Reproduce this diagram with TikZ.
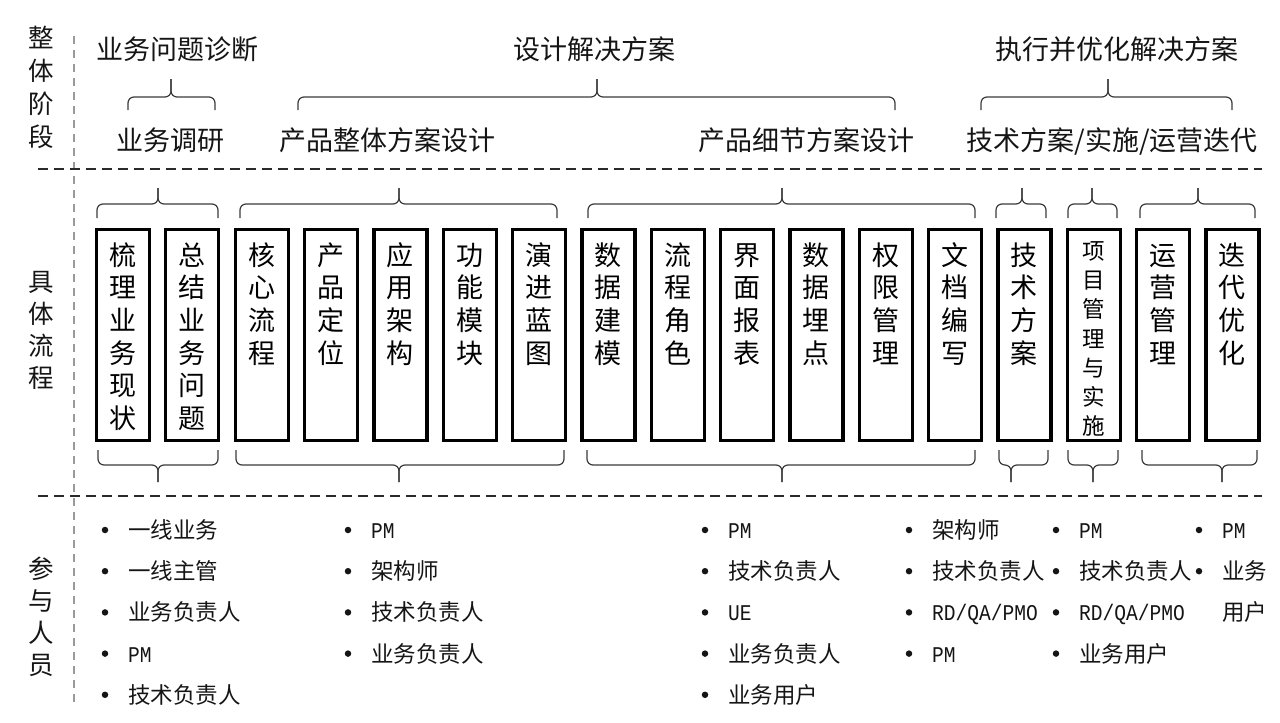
\documentclass[tikz,border=0pt]{standalone}
\usepackage{fontspec}
\setmainfont{Noto Sans CJK SC}
\newfontfamily\latf[FakeStretch=0.87]{Liberation Mono}
\definecolor{ink}{HTML}{151515}
\definecolor{bracec}{HTML}{3A3A3A}
\definecolor{dsh}{HTML}{2A2A2A}
\definecolor{vd}{HTML}{9A9A9A}
\tikzset{
 hd/.style={font=\fontsize{27}{27}\selectfont, inner sep=0, text height=23.8pt, text depth=3.2pt, text=ink},
 lab/.style={font=\fontsize{25.5}{25.5}\selectfont, inner sep=0, text height=22.4pt, text depth=3.1pt, text=ink},
 bt/.style={font=\fontsize{27}{27}\selectfont, inner sep=0, text height=23.8pt, text depth=3.2pt, text=black},
 bts/.style={font=\fontsize{22.5}{22.5}\selectfont, inner sep=0, text height=19.8pt, text depth=2.7pt, text=black},
 li/.style={font=\fontsize{22.5}{22.5}\selectfont, inner sep=0, text height=19.8pt, text depth=2.7pt, text=ink, anchor=west},
 dot/.style={circle, fill=ink, inner sep=0, minimum size=6.5pt},
 stagebox/.style={draw=black, line width=3.3pt, minimum width=53pt, minimum height=211pt, inner sep=0},
 bracestyle/.style={draw=bracec, line width=1.2pt, rounded corners=6pt},
 hdash/.style={draw=dsh, line width=2pt, dash pattern=on 10pt off 6pt},
 vdash/.style={draw=vd, line width=1.2pt, dash pattern=on 8pt off 6pt},
}
% #1 x1, #2 x2, #3 tip x, #4 end y, #5 mid y, #6 tip y
\newcommand\mybrace[6]{%
 \draw[bracestyle] (#1,#4) -- (#1,#5) -- (#3,#5) -- (#3,#6);
 \draw[bracestyle] (#2,#4) -- (#2,#5) -- (#3,#5) -- (#3,#6);}
% #1 index, #2 style, #3 first y, #4 pitch, #5 chars
\newcommand\colchars[5]{%
 \foreach \c [count=\k from 0] in {#5} {
  \node[#2] (t#1-\k) at ({123+69.34*#1}, {#3+#4*\k}) {\c};
 }}
% #1 name, #2 bullet x, #3 items
\newcommand\plist[3]{%
 \foreach \t [count=\k from 0] in {#3} {
  \node[dot] (#1d\k) at (#2, {530+41.2*\k}) {};
  \node[li] (#1t\k) at ({#2+23}, {530+41.2*\k}) {\t};
 }}
\begin{document}
\begin{tikzpicture}[x=1pt,y=-1pt]
\useasboundingbox (0,0) rectangle (1280,723);

% dividers
\draw[vdash] (74,36) -- (74,706);
\draw[hdash] (38,169) -- (1262,169);
\draw[hdash] (38,496) -- (1262,496);

% left labels
\foreach \c [count=\k from 0] in {整,体,阶,段} \node[lab] (la\k) at (41,{38+33*\k}) {\c};
\foreach \c [count=\k from 0] in {具,体,流,程} \node[lab] (lb\k) at (41,{282+32*\k}) {\c};
\foreach \c [count=\k from 0] in {参,与,人,员} \node[lab] (lc\k) at (41,{569+32*\k}) {\c};

% stage headers
\node[hd] (h1) at (177,49) {业务问题诊断};
\node[hd] (h2) at (594,49) {设计解决方案};
\node[hd] (h3) at (1117,49) {执行并优化解决方案};
\node[hd] (s1) at (170,140) {业务调研};
\node[hd] (s2) at (387,140) {产品整体方案设计};
\node[hd] (s3) at (806,140) {产品细节方案设计};
\node[hd] (s4) at (1112,140) {技术方案/实施/运营迭代};

% braces row 1
\mybrace{128}{215}{171}{110}{97}{79}
\mybrace{298}{895}{597}{110}{97}{79}
\mybrace{981}{1232}{1108}{110}{97}{79}

% braces above boxes
\mybrace{97}{218}{158}{218}{204}{188}
\mybrace{240}{557}{399}{218}{204}{188}
\mybrace{588}{975}{782}{218}{204}{188}
\mybrace{996}{1046}{1022}{218}{204}{188}
\mybrace{1068}{1117}{1092}{218}{204}{188}
\mybrace{1140}{1255}{1198}{218}{204}{188}

% braces below boxes
\mybrace{98}{218}{158}{450}{465}{482}
\mybrace{236}{564}{399}{450}{465}{482}
\mybrace{587}{975}{782}{450}{465}{482}
\mybrace{999}{1048}{1011}{450}{465}{482}
\mybrace{1068}{1118}{1093}{450}{465}{482}
\mybrace{1142}{1257}{1222}{450}{465}{482}

% boxes
\foreach \i in {0,...,16} \node[stagebox] (b\i) at ({123+69.34*\i},335) {};

\colchars{0}{bt}{255}{32.6}{梳,理,业,务,现,状}
\colchars{1}{bt}{255}{32.6}{总,结,业,务,问,题}
\colchars{2}{bt}{255}{32.6}{核,心,流,程}
\colchars{3}{bt}{255}{32.6}{产,品,定,位}
\colchars{4}{bt}{255}{32.6}{应,用,架,构}
\colchars{5}{bt}{255}{32.6}{功,能,模,块}
\colchars{6}{bt}{255}{32.6}{演,进,蓝,图}
\colchars{7}{bt}{255}{32.6}{数,据,建,模}
\colchars{8}{bt}{255}{32.6}{流,程,角,色}
\colchars{9}{bt}{255}{32.6}{界,面,报,表}
\colchars{10}{bt}{255}{32.6}{数,据,埋,点}
\colchars{11}{bt}{255}{32.6}{权,限,管,理}
\colchars{12}{bt}{255}{32.6}{文,档,编,写}
\colchars{13}{bt}{255}{32.6}{技,术,方,案}
\colchars{14}{bts}{251}{29.2}{项,目,管,理,与,实,施}
\colchars{15}{bt}{255}{32.6}{运,营,管,理}
\colchars{16}{bt}{255}{32.6}{迭,代,优,化}

% participants
\plist{pa}{105}{一线业务,一线主管,业务负责人,{\latf PM},技术负责人}
\plist{pb}{348}{{\latf PM},架构师,技术负责人,业务负责人}
\plist{pc}{705}{{\latf PM},技术负责人,{\latf UE},业务负责人,业务用户}
\plist{pd}{909}{架构师,技术负责人,{\latf RD/QA/PMO},{\latf PM}}
\plist{pe}{1056}{{\latf PM},技术负责人,{\latf RD/QA/PMO},业务用户}
\plist{pf}{1199}{{\latf PM},业务}
\node[li] (pft2) at (1222,612.4) {用户};
\end{tikzpicture}
\end{document}
